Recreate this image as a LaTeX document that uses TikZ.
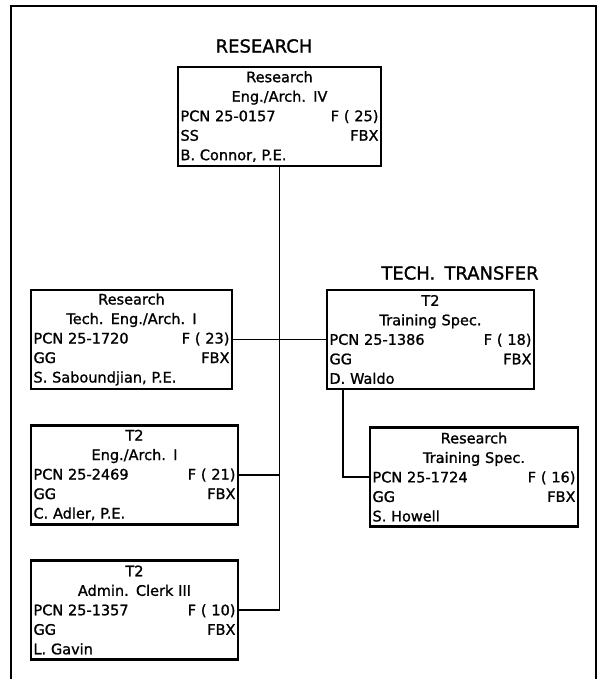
\documentclass[tikz,border=0pt]{standalone}
\usepackage{fontspec}
\setmainfont{DejaVu Sans}[WordSpace=1.6]
\newfontfamily\boxfont{DejaVu Sans}[WordSpace=1.6,FakeBold=1.2]

\begin{document}
\begin{tikzpicture}[x=1pt, y=-1pt,
    posbox/.style={draw, line width=2.6pt, align=center, inner xsep=2.5pt, inner ysep=0pt, minimum height=99pt, font=\boxfont\fontsize{14.5}{19.5}\selectfont},
    heading/.style={font=\boxfont\fontsize{18}{20}\selectfont},
    link/.style={line width=1.7pt},
    frame/.style={line width=1.3pt}
]
\useasboundingbox (0,0) rectangle (597,679);
\draw[frame] (11,679) -- (11,6) -- (596,6) -- (596,679);
\node[heading] (resT) at (264,46) {RESEARCH};
\node[heading] (ttT) at (460,273) {TECH. TRANSFER};
\node[posbox, text width=198pt] (res) at (279.5,116.5) {Research\\Eng./Arch. IV\\PCN 25-0157\hfill F ( 25)\\SS\hfill FBX\\B. Connor, P.E.\hfill\mbox{}};
\node[posbox, text width=196pt] (tea) at (131.5,339.5) {Research\\Tech. Eng./Arch. I\\PCN 25-1720\hfill F ( 23)\\GG\hfill FBX\\S. Saboundjian, P.E.\hfill\mbox{}};
\node[posbox, text width=202pt] (tt) at (430.5,339.5) {T2\\Training Spec.\\PCN 25-1386\hfill F ( 18)\\GG\hfill FBX\\D. Waldo\hfill\mbox{}};
\node[posbox, text width=202pt] (eng) at (134.5,475) {T2\\Eng./Arch. I\\PCN 25-2469\hfill F ( 21)\\GG\hfill FBX\\C. Adler, P.E.\hfill\mbox{}};
\node[posbox, text width=203pt] (trs) at (474,477) {Research\\Training Spec.\\PCN 25-1724\hfill F ( 16)\\GG\hfill FBX\\S. Howell\hfill\mbox{}};
\node[posbox, text width=202pt] (clk) at (134.5,610) {T2\\Admin. Clerk III\\PCN 25-1357\hfill F ( 10)\\GG\hfill FBX\\L. Gavin\hfill\mbox{}};
\draw[link] (res.south) |- (clk.east);
\draw[link] (tea.east) -- (tt.west);
\draw[link] (eng.east) -- (eng.east -| res.south);
\draw[link] ([xshift=-87.5pt]tt.south) |- (trs.west);
\end{tikzpicture}
\end{document}
